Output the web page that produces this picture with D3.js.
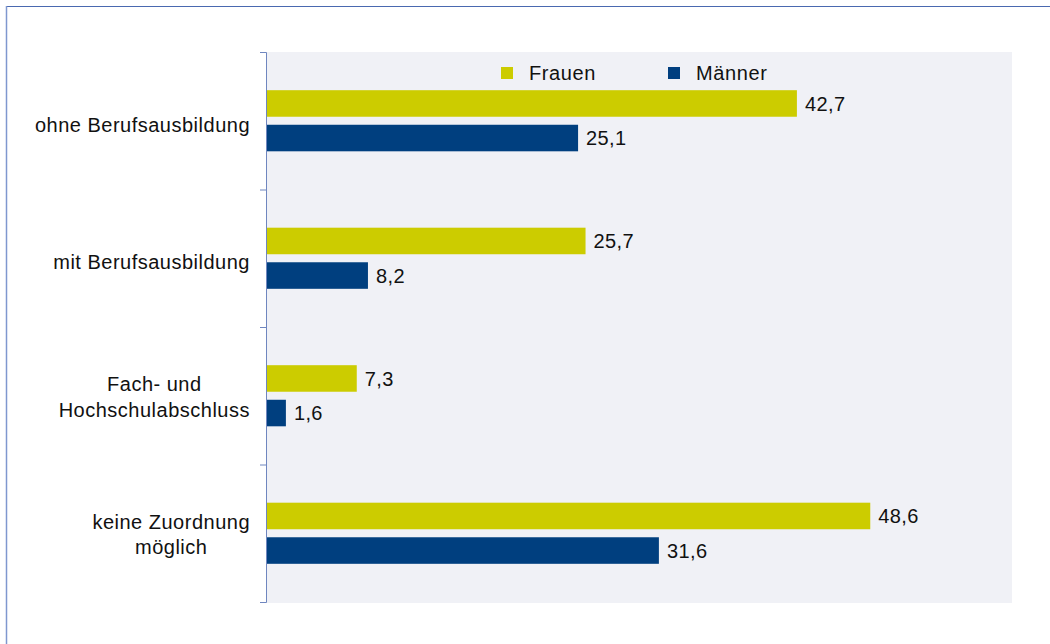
<!DOCTYPE html>
<html>
<head>
<meta charset="utf-8">
<script src="https://cdn.jsdelivr.net/npm/d3@7"></script>
<style>
  body { margin: 0; background: #fff; }
  text { font-family: "Liberation Sans", Arial, sans-serif; fill: #111; }
</style>
</head>
<body>
<svg id="chart" width="1050" height="644"></svg>
<script>
// categories (multi-line labels split with "|")
const categories = [
  "ohne Berufsausbildung",
  "mit Berufsausbildung",
  "Fach- und|Hochschulabschluss",
  "keine Zuordnung|möglich"
];
const seriesNames = ["Frauen", "Männer"];
const frauen = [42.7, 25.7, 7.3, 48.6];
const maenner = [25.1, 8.2, 1.6, 31.6];
const seriesColors = ["#cccc00", "#003f7f"];

const svg = d3.select("#chart");

// outer frame
svg.append("line").attr("x1", 6).attr("x2", 1050).attr("y1", 6.5).attr("y2", 6.5)
  .attr("stroke", "#4a69b0");
svg.append("line").attr("x1", 6.5).attr("x2", 6.5).attr("y1", 6).attr("y2", 644)
  .attr("stroke", "#7f97cf").attr("stroke-width", 1.5);

const plot = { left: 266, right: 1012, top: 52, bottom: 602 };

const x = d3.scaleLinear().domain([0, 60]).range([plot.left, plot.right]);
const y = d3.scaleBand().domain(categories).range([plot.top, plot.bottom]).padding(0);
const inner = d3.scaleBand().domain(seriesNames).range([0, y.bandwidth()])
  .paddingInner(0.232).paddingOuter(1.105);

// plot background
svg.append("rect")
  .attr("x", plot.left).attr("y", plot.top)
  .attr("width", plot.right - plot.left).attr("height", plot.bottom - plot.top + 1)
  .attr("fill", "#f0f1f6");

// bars
const rows = categories.map((c, i) => ({ cat: c, values: [frauen[i], maenner[i]] }));
const group = svg.selectAll(".cat").data(rows).enter().append("g")
  .attr("class", "cat")
  .attr("transform", d => `translate(0,${y(d.cat)})`);

group.selectAll("rect")
  .data(d => d.values.map((v, j) => ({ name: seriesNames[j], value: v, color: seriesColors[j] })))
  .enter().append("rect")
  .attr("x", x(0))
  .attr("y", d => inner(d.name))
  .attr("width", d => x(d.value) - x(0))
  .attr("height", inner.bandwidth())
  .attr("fill", d => d.color);

group.selectAll(".val")
  .data(d => d.values.map((v, j) => ({ name: seriesNames[j], value: v })))
  .enter().append("text")
  .attr("class", "val")
  .attr("x", d => x(d.value) + 8)
  .attr("y", d => inner(d.name) + inner.bandwidth() / 2)
  .attr("dy", "0.36em")
  .attr("font-size", "20px")
  .attr("letter-spacing", "0.4px")
  .text(d => d.value.toFixed(1).replace(".", ","));

// category axis (ticks between categories)
const tickScale = d3.scaleLinear().domain([0, categories.length]).range([plot.top, plot.bottom]);
const axis = svg.append("g")
  .attr("transform", `translate(${plot.left},0)`)
  .call(d3.axisLeft(tickScale).ticks(categories.length).tickSize(6).tickFormat(""));
axis.select(".domain").attr("stroke", "#6f86bf");
axis.selectAll(".tick line").attr("stroke", "#6f86bf");

// category labels
const labelRight = 250;
rows.forEach(d => {
  const lines = d.cat.split("|");
  const lineH = 25.5;
  const cy = y(d.cat) + y.bandwidth() / 2 + (lines.length > 1 ? 1 : 4);
  const t = svg.append("text")
    .attr("font-size", "20px")
    .attr("letter-spacing", "0.5px")
    .attr("text-anchor", "middle");
  lines.forEach((ln, k) => {
    t.append("tspan")
      .attr("x", 0)
      .attr("y", cy + (k - (lines.length - 1) / 2) * lineH)
      .attr("dy", "0.36em")
      .text(ln);
  });
  const w = t.node().getBBox().width;
  t.attr("transform", `translate(${labelRight - w / 2},0)`);
});

// legend
const legendPos = [501, 668];
const legend = svg.selectAll(".legend").data(seriesNames).enter().append("g")
  .attr("class", "legend")
  .attr("transform", (d, i) => `translate(${legendPos[i]},67)`);
legend.append("rect").attr("width", 12).attr("height", 12)
  .attr("fill", (d, i) => seriesColors[i]);
legend.append("text").attr("x", 28).attr("y", 6).attr("dy", "0.36em")
  .attr("font-size", "20px").attr("letter-spacing", "0.6px").text(d => d);
</script>
</body>
</html>
